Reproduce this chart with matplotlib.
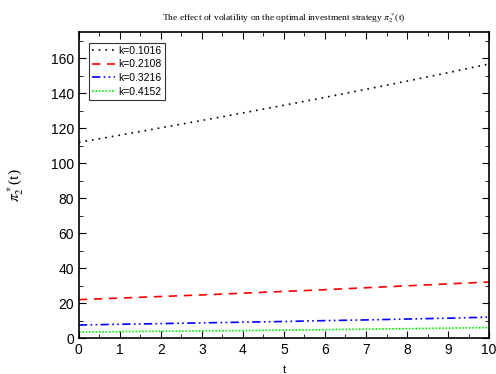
import matplotlib
matplotlib.use("Agg")
import matplotlib.pyplot as plt
from matplotlib.ticker import MultipleLocator

t = [0, 1, 2, 3, 4, 5, 6, 7, 8, 9, 10]
pi_k1 = [112.0, 116.1, 120.3, 124.5, 128.8, 133.2, 137.7, 142.3, 147.0, 151.8, 156.8]
pi_k2 = [22.0, 22.9, 23.8, 24.7, 25.7, 26.7, 27.7, 28.8, 29.9, 31.0, 32.1]
pi_k3 = [7.5, 7.9, 8.3, 8.7, 9.1, 9.5, 10.0, 10.4, 10.9, 11.4, 12.0]
pi_k4 = [3.5, 3.7, 3.9, 4.1, 4.3, 4.6, 4.8, 5.1, 5.4, 5.7, 6.0]
labels = ["k=0.1016", "k=0.2108", "k=0.3216", "k=0.4152"]

plt.rcParams['font.family'] = ['Liberation Sans', 'DejaVu Sans']
plt.rcParams['mathtext.fontset'] = 'stix'

fig = plt.figure(figsize=(4.96, 3.74), dpi=100)
ax = fig.add_axes([0.159, 0.096, 0.827, 0.818])

ax.plot(t, pi_k1, color='black', ls=(0, (1, 3)), lw=1.2, label=labels[0])
ax.plot(t, pi_k2, color='red', ls=(0, (5, 4)), lw=1.2, label=labels[1])
ax.plot(t, pi_k3, color='blue', ls=(0, (5, 2, 1, 2, 1, 2)), lw=1.2, label=labels[2])
ax.plot(t, pi_k4, color='#00ee00', ls=(0, (1, 1)), lw=1.2, label=labels[3])

ax.set_xlim(0, 10)
ax.set_ylim(0, 175)
ax.xaxis.set_major_locator(MultipleLocator(1))
ax.xaxis.set_minor_locator(MultipleLocator(0.5))
ax.yaxis.set_major_locator(MultipleLocator(20))
ax.yaxis.set_minor_locator(MultipleLocator(10))
ax.tick_params(which='both', direction='in', top=True, right=True, labelsize=10)
ax.tick_params(which='major', length=5)
ax.tick_params(which='minor', length=3)
for s in ax.spines.values():
    s.set_linewidth(1.2)

ax.set_title(r"The effect of volatility on the optimal investment strategy $\pi_2^*$(t)",
             family='Liberation Serif', fontsize=6.8, pad=8)
ax.set_xlabel("t", fontsize=8, labelpad=6)
ax.set_ylabel(r"$\pi_2^*$(t)", family='Liberation Serif', fontsize=11, labelpad=18)

leg = ax.legend(loc='upper left', fontsize=7.5, frameon=True, fancybox=False,
                edgecolor='black', handlelength=2.2, borderpad=0.3,
                labelspacing=0.35, handletextpad=0.3, borderaxespad=1.0)
leg.get_frame().set_linewidth(0.8)

fig.savefig("out.png", dpi=100)
